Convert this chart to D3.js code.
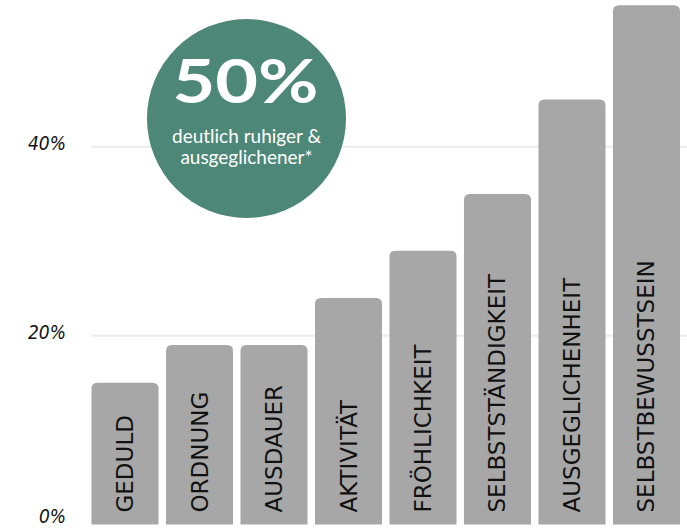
<!DOCTYPE html>
<html>
<head>
<meta charset="utf-8">
<script src="https://cdn.jsdelivr.net/npm/d3@7"></script>
<style>
  body { margin: 0; background: #fff; }
  .tickLabel { font-family: "DejaVu Sans Condensed", "DejaVu Sans", sans-serif; font-style: italic; font-size: 19px; fill: #111; }
  .barLabel { font-family: "DejaVu Sans", sans-serif; font-size: 23px; fill: #111; }
  .badgeBig { font-family: Lato, "Open Sans", sans-serif; font-weight: 700; font-size: 62px; fill: #fff; }
  .badgeSmall { font-family: Lato, "Open Sans", sans-serif; font-size: 19px; fill: #fff; }
</style>
</head>
<body>
<div id="chart"></div>
<script>
// categories + values (%)
var traits = ["GEDULD", "ORDNUNG", "AUSDAUER", "AKTIVITÄT", "FRÖHLICHKEIT",
              "SELBSTSTÄNDIGKEIT", "AUSGEGLICHENHEIT", "SELBSTBEWUSSTSEIN"];
var percents = [15, 19, 19, 24, 29, 35, 45, 55];
var yTicks = [0, 20, 40];

// badge text
var badgeValue = "50%";
var badgeLines = ["deutlich ruhiger &", "ausgeglichener*"];

var svgWidth = 687;
var svgHeight = 529;

var svg = d3.select("#chart")
            .append("svg")
            .attr("width", svgWidth)
            .attr("height", svgHeight);

// scales
var xBand = d3.scaleBand()
  .domain(traits)
  .range([91.5, 680])
  .paddingInner(0.1)
  .paddingOuter(0);

var yLinear = d3.scaleLinear()
  .domain([0, 55.55])
  .range([524.5, 0]);

// gridlines
svg.append("g")
  .selectAll("line")
  .data(yTicks.filter(d => d > 0))
  .enter()
  .append("line")
  .attr("x1", 91)
  .attr("x2", svgWidth)
  .attr("y1", d => yLinear(d))
  .attr("y2", d => yLinear(d))
  .attr("stroke", "#ebebeb")
  .attr("stroke-width", 2);

// y labels (keep the 0% one inside the picture)
svg.append("g")
  .selectAll("text")
  .data(yTicks)
  .enter()
  .append("text")
  .attr("class", "tickLabel")
  .attr("x", 66)
  .attr("y", d => Math.min(yLinear(d) - 3, 516))
  .attr("dy", "0.35em")
  .attr("text-anchor", "end")
  .text(d => d + "%");

// bar with rounded top corners
function barPath(x, y, w, h) {
  var r = Math.min(6, h);
  return "M" + x + "," + (y + h) +
         "V" + (y + r) +
         "Q" + x + "," + y + " " + (x + r) + "," + y +
         "H" + (x + w - r) +
         "Q" + (x + w) + "," + y + " " + (x + w) + "," + (y + r) +
         "V" + (y + h) + "Z";
}

var bars = svg.append("g")
  .selectAll("path")
  .data(traits)
  .enter()
  .append("path")
  .attr("d", (d, i) => barPath(xBand(d), yLinear(percents[i]), xBand.bandwidth(), yLinear(0) - yLinear(percents[i])))
  .attr("fill", "#a7a7a7");

// labels inside bars, rotated
svg.append("g")
  .selectAll("text")
  .data(traits)
  .enter()
  .append("text")
  .attr("class", "barLabel")
  .attr("transform", d => `translate(${xBand(d) + xBand.bandwidth() / 2 + 8}, ${yLinear(0) - 12}) rotate(-90)`)
  .text(d => d);

// badge
var badge = svg.append("g")
  .attr("transform", "translate(246.5, 118.5)");

badge.append("circle")
  .attr("r", 99.5)
  .attr("fill", "#4d8777");

badge.append("text")
  .attr("class", "badgeBig")
  .attr("x", -1)
  .attr("y", -16)
  .attr("text-anchor", "middle")
  .attr("textLength", 146)
  .attr("lengthAdjust", "spacingAndGlyphs")
  .text(badgeValue);

badge.selectAll(".badgeSmall")
  .data(badgeLines)
  .enter()
  .append("text")
  .attr("class", "badgeSmall")
  .attr("x", 0)
  .attr("y", (d, i) => 24.5 + i * 21)
  .attr("text-anchor", "middle")
  .text(d => d);
</script>
</body>
</html>
